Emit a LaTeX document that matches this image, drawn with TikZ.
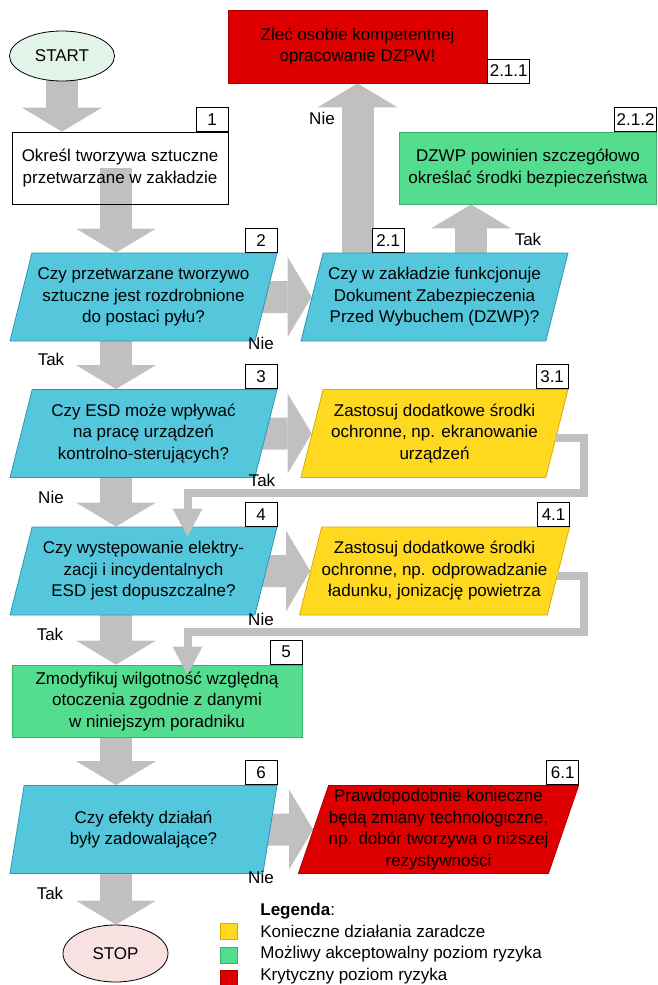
\documentclass[tikz,border=0pt]{standalone}
\usepackage{fontspec}
\setmainfont{Liberation Sans}
\usetikzlibrary{shapes.geometric,arrows.meta,backgrounds}

\begin{document}
\begin{tikzpicture}[x=1pt,y=-1pt, line width=0.8pt,
    every node/.style={font=\fontsize{17}{21.5}\selectfont, inner sep=0pt},
    box/.style={rectangle, draw, align=center},
    question/.style={trapezium, trapezium left angle=69.4, trapezium right angle=110.6,
        trapezium stretches body=true, minimum width=267pt, minimum height=88pt,
        align=center, fill=askfill, draw=askline},
    oval/.style={ellipse, draw, minimum width=105pt, minimum height=50pt},
    tag/.style={rectangle, draw, fill=white, minimum width=32pt, minimum height=24pt, inner sep=2pt},
    fat/.style={draw=arrowgray, line width=32pt, -{Triangle[width=80pt,length=24pt,line width=0pt]}},
    pipe/.style={draw=arrowgray, line width=8pt, -{Triangle[width=30pt,length=28pt,line width=0pt]}},
    swatch/.style={rectangle, draw, minimum width=17pt, minimum height=16pt}
  ]
    % Define colors
    \definecolor{askfill}{RGB}{84, 199, 220}
    \definecolor{askline}{RGB}{45, 150, 180}
    \definecolor{actfill}{RGB}{255, 217, 31}
    \definecolor{actline}{RGB}{212, 175, 0}
    \definecolor{okfill}{RGB}{85, 221, 143}
    \definecolor{okline}{RGB}{55, 180, 105}
    \definecolor{critfill}{RGB}{222, 0, 0}
    \definecolor{critline}{RGB}{175, 0, 0}
    \definecolor{startfill}{RGB}{226, 244, 234}
    \definecolor{stopfill}{RGB}{248, 225, 225}
    \definecolor{arrowgray}{RGB}{192, 192, 192}

    \useasboundingbox (0,0) rectangle (658,985);

    \coordinate (spine) at (116,0);
    \coordinate (takx) at (471,0);
    \coordinate (loopx) at (187.5,0);

    % main column
    \node[oval, fill=startfill] (start) at (62,56) {START};
    \node[box, minimum width=216pt, minimum height=72pt] (step1) at (120,168) {Określ tworzywa sztuczne\\przetwarzane w zakładzie};
    \node[tag, anchor=south east] (tag1) at (step1.north east) {1};

    \node[question] (ask2) at (143.5,297) {Czy przetwarzane tworzywo\\sztuczne jest rozdrobnione\\do postaci pyłu?};
    \node[tag, anchor=south east] (tag2) at (ask2.top right corner) {2};

    \node[question] (ask3) at (143.5,433.5) {Czy ESD może wpływać\\na pracę urządzeń\\kontrolno-sterujących?};
    \node[tag, anchor=south east] (tag3) at (ask3.top right corner) {3};

    \node[question] (ask4) at (143.5,571) {Czy występowanie elektry-\\zacji i incydentalnych\\ESD jest dopuszczalne?};
    \node[tag, anchor=south east] (tag4) at (ask4.top right corner) {4};

    \node[box, fill=okfill, draw=okline, minimum width=290pt, minimum height=72pt] (step5) at (157,701) {Zmodyfikuj wilgotność względną\\otoczenia zgodnie z danymi\\w niniejszym poradniku};
    \node[tag, anchor=south east] (tag5) at (step5.north east) {5};

    \node[question] (ask6) at (143.5,829.5) {Czy efekty działań\\były zadowalające?};
    \node[tag, anchor=south east] (tag6) at (ask6.top right corner) {6};

    \node[oval, fill=stopfill, minimum height=57pt] (stop) at (115.5,953.5) {STOP};

    % right column
    \node[box, fill=critfill, draw=critline, minimum width=259pt, minimum height=73pt] (crit211) at (357.5,46.5) {Zleć osobie kompetentnej\\opracowanie DZPW!};
    \node[tag, anchor=south west] (tag211) at (crit211.south east) {2.1.1};

    \node[box, fill=okfill, draw=okline, minimum width=257pt, minimum height=72pt] (ok212) at (528,168) {DZWP powinien szczegółowo\\określać środki bezpieczeństwa};
    \node[tag, anchor=south east] (tag212) at (ok212.north east) {2.1.2};

    \node[question] (ask21) at (434.5,297) {Czy w zakładzie funkcjonuje\\Dokument Zabezpieczenia\\Przed Wybuchem (DZWP)?};
    \node[tag, anchor=south west] (tag21) at ([xshift=49pt]ask21.top left corner) {2.1};

    \node[question, fill=actfill, draw=actline] (act31) at (434.5,433.5) {Zastosuj dodatkowe środki\\ochronne, np. ekranowanie\\urządzeń};
    \node[tag, anchor=south east] (tag31) at (act31.top right corner) {3.1};

    \node[question, fill=actfill, draw=actline] (act41) at (434.5,571) {Zastosuj dodatkowe środki\\ochronne, np. odprowadzanie\\ładunku, jonizację powietrza};
    \node[tag, anchor=south east] (tag41) at (act41.top right corner) {4.1};

    \node[question, fill=critfill, draw=critline, minimum width=275pt] (crit61) at (438.5,829.5) {Prawdopodobnie konieczne\\będą zmiany technologiczne,\\np. dobór tworzywa o niższej\\rezystywności};
    \node[tag, anchor=south east] (tag61) at (crit61.top right corner) {6.1};

    % answers
    \node (nie21) at (322,118) {Nie};
    \node (tak21) at (528,239) {Tak};
    \node (nie2) at (261,343) {Nie};
    \node (tak2) at (51,359) {Tak};
    \node (tak3) at (262,480) {Tak};
    \node (nie3) at (51,497) {Nie};
    \node (nie4) at (261,619) {Nie};
    \node (tak4) at (50,634) {Tak};
    \node (nie6) at (261,877) {Nie};
    \node (tak6) at (50,893) {Tak};

    % legend
    \node[swatch, fill=actfill, draw=actline] (keyact) at (228.5,931) {};
    \node[swatch, fill=okfill, draw=okline] (keyok) at (228.5,955) {};
    \node[swatch, fill=critfill, draw=critline] (keycrit) at (228.5,978) {};
    \node[anchor=north west, align=left] (legend) at (260,903) {\textbf{Legenda}:\\Konieczne działania zaradcze\\Możliwy akceptowalny poziom ryzyka\\Krytyczny poziom ryzyka};

    \begin{pgfonlayer}{background}
        \draw[fat] (start.center) -- (start.center |- step1.north);
        \draw[fat] (step1.center -| spine) -- (ask2.north -| spine);
        \draw[fat] (ask2.center -| spine) -- (ask3.north -| spine);
        \draw[fat] (ask3.center -| spine) -- (ask4.north -| spine);
        \draw[fat] (ask4.center -| spine) -- (step5.north -| spine);
        \draw[fat] (step5.center -| spine) -- (ask6.north -| spine);
        \draw[fat] (ask6.center -| spine) -- (stop.north -| spine);
        \draw[fat] (ask2.center) -- (ask21.west);
        \draw[fat] (ask3.center) -- (act31.west);
        \draw[fat] (ask4.center) -- (act41.west);
        \draw[fat] (ask6.center) -- (crit61.west);
        \draw[fat] (ask21.center -| crit211.south) -- (crit211.south);
        \draw[fat] (ask21.center -| takx) -- (ok212.south -| takx);
    \end{pgfonlayer}

    % loops back to the main column
    \draw[pipe] ([xshift=-2pt,yshift=-4.5pt]act31.east) -| (584,493) -| ([yshift=-10pt]ask4.north -| loopx);
    \draw[pipe] ([xshift=-2pt,yshift=-4.5pt]act41.east) -| (584,632) -| ([yshift=-10pt]step5.north -| loopx);
\end{tikzpicture}
\end{document}
